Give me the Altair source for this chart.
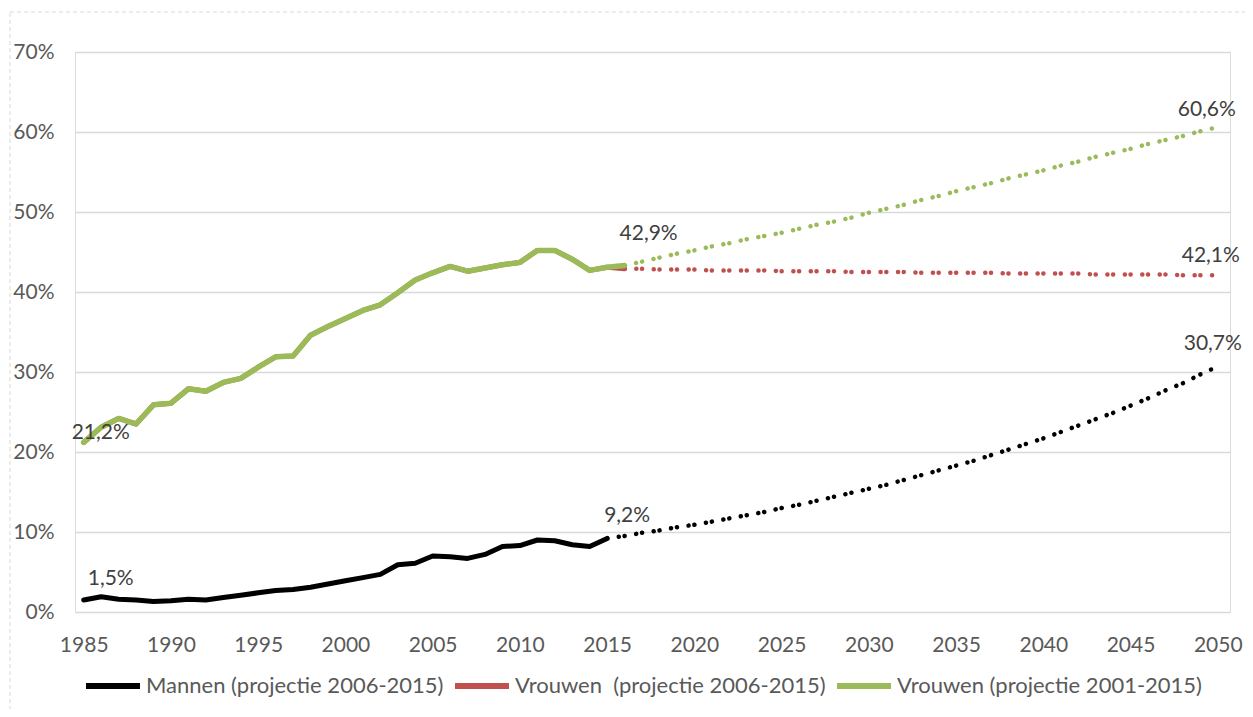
import altair as alt
import pandas as pd

# ---------------- data ----------------
hist_years = list(range(1985, 2016))  # 1985..2015
mannen_hist = [1.5, 1.9, 1.6, 1.5, 1.3, 1.4, 1.6, 1.5, 1.8, 2.1,
               2.4, 2.7, 2.8, 3.1, 3.5, 3.9, 4.3, 4.7, 5.9, 6.1,
               7.0, 6.9, 6.7, 7.2, 8.2, 8.3, 9.0, 8.9, 8.4, 8.2,
               9.2]
vrouwen_hist_years = list(range(1985, 2017))  # 1985..2016
vrouwen_hist = [21.2, 23.1, 24.2, 23.5, 25.9, 26.1, 27.9, 27.6, 28.7, 29.2,
                30.6, 31.9, 32.0, 34.6, 35.7, 36.7, 37.7, 38.4, 39.9, 41.5,
                42.4, 43.2, 42.6, 43.0, 43.4, 43.7, 45.2, 45.2, 44.1, 42.7,
                43.1, 43.3]
vrouwen_red_2016 = 42.9

proj_years_m = list(range(2015, 2051))  # 2015..2050
mannen_proj = [9.2, 9.5, 9.9, 10.2, 10.6, 10.9, 11.3, 11.7, 12.1, 12.5,
               13.0, 13.4, 13.9, 14.4, 14.9, 15.4, 15.9, 16.5, 17.1, 17.7,
               18.3, 18.9, 19.6, 20.3, 21.0, 21.7, 22.5, 23.3, 24.1, 24.9,
               25.8, 26.7, 27.7, 28.6, 29.7, 30.7]
proj_years_v = list(range(2016, 2051))  # 2016..2050
vrouwen_red_proj = [42.9, 42.9, 42.8, 42.8, 42.8, 42.7, 42.7, 42.7, 42.7, 42.6,
                    42.6, 42.6, 42.6, 42.5, 42.5, 42.5, 42.5, 42.4, 42.4, 42.4,
                    42.4, 42.4, 42.3, 42.3, 42.3, 42.3, 42.3, 42.2, 42.2, 42.2,
                    42.2, 42.2, 42.1, 42.1, 42.1]
vrouwen_green_proj = [43.3, 43.8, 44.3, 44.8, 45.2, 45.7, 46.1, 46.6, 47.0, 47.4,
                      47.9, 48.4, 48.8, 49.3, 49.9, 50.4, 50.9, 51.5, 52.0, 52.6,
                      53.1, 53.6, 54.2, 54.7, 55.2, 55.8, 56.3, 56.9, 57.4, 57.9,
                      58.5, 59.0, 59.5, 60.1, 60.6]

series_names = ["Mannen (projectie 2006-2015)",
                "Vrouwen\u00a0 (projectie 2006-2015)",
                "Vrouwen (projectie 2001-2015)"]
series_colors = ["#000000", "#C0504D", "#9BBB59"]
x_ticks = list(range(1985, 2051, 5))
y_ticks = [0, 10, 20, 30, 40, 50, 60, 70]

# ---------------- tables ----------------
M, R, G = series_names

solid_rows = []
for y, v in zip(hist_years, mannen_hist):
    solid_rows.append({"series": M, "year": y, "value": v})
red_hist = vrouwen_hist[:-1] + [vrouwen_red_2016]
for y, v in zip(vrouwen_hist_years, red_hist):
    solid_rows.append({"series": R, "year": y, "value": v})
for y, v in zip(vrouwen_hist_years, vrouwen_hist):
    solid_rows.append({"series": G, "year": y, "value": v})
solid = pd.DataFrame(solid_rows)


def segments(name, years, vals):
    rows = []
    for i in range(len(years) - 1):
        seg = f"{name}-{i}"
        rows.append({"series": name, "seg": seg, "year": years[i], "value": vals[i]})
        rows.append({"series": name, "seg": seg, "year": years[i + 1], "value": vals[i + 1]})
    return rows


proj = pd.DataFrame(segments(M, proj_years_m, mannen_proj)
                    + segments(R, proj_years_v, vrouwen_red_proj)
                    + segments(G, proj_years_v, vrouwen_green_proj))

label_points = pd.DataFrame([
    {"key": "m1985", "year": 1985, "value": mannen_hist[0]},
    {"key": "m2015", "year": 2015, "value": mannen_hist[-1]},
    {"key": "m2050", "year": 2050, "value": mannen_proj[-1]},
    {"key": "v1985", "year": 1985, "value": vrouwen_hist[0]},
    {"key": "v2016", "year": 2016, "value": vrouwen_red_2016},
    {"key": "r2050", "year": 2050, "value": vrouwen_red_proj[-1]},
    {"key": "g2050", "year": 2050, "value": vrouwen_green_proj[-1]},
])
# label offsets (style, kept apart from data)
label_offsets = {"m1985": (27, -21), "m2015": (20, -22), "m2050": (-5, -22),
                 "v1985": (17, -9), "v2016": (24, -35), "r2050": (-7, -19),
                 "g2050": (-11, -17)}

FONT = "Lato"
W, H = 1155, 560
PAD_L = 67

x_scale = alt.Scale(domain=[1984.5, 2050.7], nice=False, zero=False)
y_scale = alt.Scale(domain=[0, 70], nice=False)
x_axis = alt.Axis(values=x_ticks, format="d", grid=False, ticks=False,
                  domain=False, labelPadding=22, labelFontSize=21,
                  labelColor="#595959", labelFont=FONT, title=None,
                  labelFlush=False)
y_axis = alt.Axis(values=y_ticks, labelExpr="datum.value + '%'", grid=True,
                  gridColor="#D9D9D9", gridWidth=1.3, ticks=False,
                  domain=False, labelPadding=21, labelFontSize=21,
                  labelColor="#595959", labelFont=FONT, title=None)

color_scale = alt.Scale(domain=series_names, range=series_colors)
legend = alt.Legend(orient="none", legendX=8, legendY=604, direction="horizontal",
                    title=None, symbolType="stroke", symbolSize=2916,
                    symbolStrokeWidth=6, labelFont=FONT, labelFontSize=22,
                    labelColor="#595959", labelOffset=3, columnPadding=-1,
                    labelLimit=500, gridAlign="each")

# border around whole chart (right edge falls just outside the canvas)
border = alt.Chart(pd.DataFrame({"a": [0]})).mark_rect(
    fill=None, stroke="#D9D9D9", strokeDash=[4, 3], strokeWidth=1
).encode(x=alt.value(-65), x2=alt.value(1180), y=alt.value(-40), y2=alt.value(660))

base_solid = alt.Chart(solid)


def solid_layer(name, width):
    return base_solid.transform_filter(alt.datum.series == name).mark_line(
        strokeWidth=width, strokeCap="round", strokeJoin="round"
    ).encode(
        x=alt.X("year:Q", scale=x_scale, axis=x_axis),
        y=alt.Y("value:Q", scale=y_scale, axis=y_axis),
        color=alt.Color("series:N", scale=color_scale, legend=legend),
    )


def proj_layer(name, color):
    return alt.Chart(proj).transform_filter(alt.datum.series == name).mark_line(
        strokeWidth=4.5, strokeCap="round", strokeDash=[0.1, 11.6], color=color
    ).encode(
        x=alt.X("year:Q", scale=x_scale),
        y=alt.Y("value:Q", scale=y_scale),
        detail="seg:N",
    )


layers = [border,
          proj_layer(R, "#C0504D"),
          proj_layer(G, "#9BBB59"),
          proj_layer(M, "#000000"),
          solid_layer(M, 5),
          solid_layer(R, 5),
          solid_layer(G, 5.5)]

for key, (dx, dy) in label_offsets.items():
    layers.append(
        alt.Chart(label_points).transform_filter(alt.datum.key == key)
        .transform_calculate(txt="replace(format(datum.value, '.1f'), '.', ',') + '%'")
        .mark_text(font=FONT, fontSize=21, color="#404040", dx=dx, dy=dy)
        .encode(x=alt.X("year:Q", scale=x_scale), y=alt.Y("value:Q", scale=y_scale),
                text="txt:N")
    )

chart = alt.layer(*layers).properties(
    width=W, height=H,
    padding={"left": PAD_L, "top": 44, "right": 15, "bottom": 97},
    autosize=alt.AutoSizeParams(type="none"),
).configure_view(stroke=None).configure(background="white")

chart.save("out.html", embed_options={"renderer": "svg", "actions": False})
